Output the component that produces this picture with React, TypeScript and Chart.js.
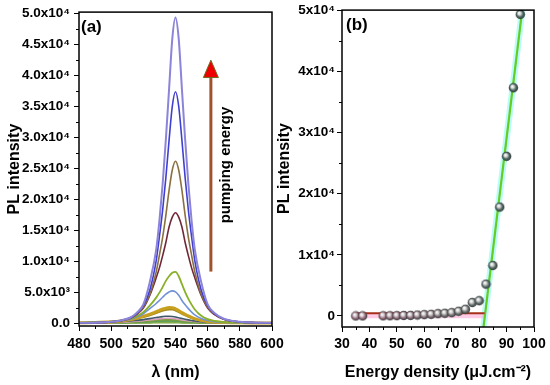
import React, { useEffect, useRef } from "react";
import { Chart, registerables } from "chart.js";
Chart.register(...registerables);

const FONT = "'Liberation Sans', Arial, Helvetica, sans-serif";

// ---------- Panel (a) data ----------
const WAVELENGTH = [480, 490, 500, 506, 512, 516, 520, 524, 528, 530, 532, 534, 536, 538, 540, 542, 544, 546, 548, 550, 552, 556, 560, 564, 570, 580, 590, 600];
const PL_49300 = [25, 64, 200, 420, 890, 1680, 3010, 6600, 11830, 16520, 22430, 29580, 37710, 45850, 49300, 45850, 37710, 29580, 22430, 16520, 11830, 6600, 3010, 1680, 690, 200, 64, 25];
const PL_37300 = [22, 58, 190, 400, 850, 1570, 2800, 5300, 10070, 13950, 18200, 23420, 29470, 34950, 37300, 34950, 29470, 23420, 18200, 13950, 10070, 5300, 2800, 1570, 650, 190, 58, 22];
const PL_26100 = [20, 52, 180, 380, 820, 1460, 2560, 4590, 8250, 10960, 13830, 17380, 21400, 24690, 26100, 24690, 21400, 17380, 13830, 10960, 8250, 4590, 2560, 1460, 620, 180, 52, 20];
const PL_17800 = [18, 48, 170, 360, 780, 1400, 2400, 4450, 7300, 8900, 10860, 12990, 15490, 17090, 17800, 17090, 15490, 12990, 10860, 8900, 7300, 4450, 2400, 1400, 600, 170, 48, 18];
const PL_8250 = [40, 90, 210, 380, 700, 1100, 1750, 2800, 4100, 4900, 5800, 6800, 7550, 8100, 8250, 7550, 6270, 4990, 3900, 2970, 2180, 1160, 620, 350, 160, 50, 17, 7];
const PL_5200 = [30, 70, 170, 320, 600, 950, 1500, 2330, 3150, 3640, 4160, 4660, 5010, 5190, 5030, 4490, 3640, 2940, 2320, 1780, 1320, 730, 400, 230, 110, 35, 10, 4];
const PL_2500 = [48, 100, 210, 345, 575, 800, 1100, 1425, 1825, 2050, 2260, 2400, 2490, 2475, 2300, 2000, 1675, 1390, 1140, 910, 710, 425, 250, 160, 83, 30, 12, 5];
const PL_2200 = [42, 88, 185, 305, 505, 705, 970, 1255, 1605, 1805, 1990, 2110, 2190, 2180, 2025, 1760, 1475, 1225, 1005, 800, 625, 375, 220, 140, 73, 26, 11, 4];
const PL_1100 = [29, 57, 120, 200, 315, 430, 550, 705, 880, 970, 1035, 1085, 1100, 1060, 980, 845, 715, 605, 505, 415, 330, 210, 130, 85, 46, 17, 7, 3];
const PL_770 = [20, 40, 84, 140, 220, 300, 385, 495, 615, 680, 725, 760, 770, 740, 685, 590, 500, 425, 355, 290, 230, 147, 91, 60, 32, 12, 5, 2];
const PL_540 = [14, 28, 59, 98, 154, 211, 270, 345, 431, 475, 507, 532, 540, 520, 480, 414, 350, 296, 247, 203, 162, 103, 64, 42, 23, 8, 3, 1];
const PL_380 = [10, 20, 41, 69, 109, 148, 190, 243, 304, 335, 357, 374, 380, 366, 338, 292, 247, 209, 174, 143, 114, 72, 45, 29, 16, 6, 2, 1];
const PL_220 = [6, 11, 24, 40, 63, 86, 110, 141, 176, 194, 207, 217, 220, 212, 196, 169, 143, 121, 101, 83, 66, 42, 26, 17, 9, 3, 1, 1];
const PL_100 = [3, 5, 11, 18, 28, 39, 50, 63, 79, 87, 93, 98, 100, 95, 88, 76, 64, 54, 45, 37, 30, 19, 12, 8, 4, 2, 1, 0];

const SPECTRA = [PL_49300, PL_37300, PL_26100, PL_17800, PL_8250, PL_5200, PL_2500, PL_2200, PL_1100, PL_770, PL_540, PL_380, PL_220, PL_100];
const SPECTRA_COLORS = ["#8c84d8", "#4040d0", "#8a7040", "#702838", "#88b028", "#7090d8", "#c8a020", "#a88c1c", "#405868", "#e0a0c0", "#7aa040", "#5a9a60", "#8ab050", "#70a030"];
const SPECTRA_WIDTHS = [2, 1.6, 1.6, 1.6, 1.8, 1.6, 3, 2, 1.6, 1.5, 2, 2, 2, 2];

const A_X_TICKS = [480, 500, 520, 540, 560, 580, 600];
const A_X_MINOR = [490, 510, 530, 550, 570, 590];
const A_Y_TICKS = [0, 5000, 10000, 15000, 20000, 25000, 30000, 35000, 40000, 45000, 50000];
const A_Y_LABELS = ["0.0", "5.0x10³", "1.0x10⁴", "1.5x10⁴", "2.0x10⁴", "2.5x10⁴", "3.0x10⁴", "3.5x10⁴", "4.0x10⁴", "4.5x10⁴", "5.0x10⁴"];
const A_Y_MINOR = [2500, 7500, 12500, 17500, 22500, 27500, 32500, 37500, 42500, 47500];

const ARROW_X = 562;
const ARROW_FROM = 8300;
const ARROW_BASE = 39600;
const ARROW_TIP = 42400;
const ARROW_TEXT = "pumping energy";
const ARROW_TEXT_X = 571.5;
const ARROW_TEXT_Y = 25500;

// ---------- Panel (b) data ----------
const ENERGY = [35, 37.5, 45, 47.5, 50, 52.5, 55, 57.5, 60, 62.5, 65, 67.5, 70, 72.5, 75, 77.5, 80, 82.5, 85, 87.5, 90, 92.5, 95];
const INTENSITY = [0, 10, 20, 30, 50, 80, 100, 160, 220, 270, 380, 440, 540, 770, 1100, 2200, 2500, 5200, 8250, 17800, 26100, 37300, 49300];
const POINT_COLORS = ["#9a6a7c", "#9a6a7c", "#9a6a7c", "#946c7c", "#946c7c", "#8e6e7c", "#8e6e7c", "#88707a", "#88707a", "#827278", "#827278", "#7a7476", "#7a7476", "#727474", "#727474", "#6a7472", "#647270", "#5e706c", "#586e68", "#526c66", "#4c6a62", "#4c6a62", "#4c6a62"];

const FIT_LOW_X = [35, 82];
const FIT_LOW_Y = [450, 450];
const BAND_LOW_BOTTOM = [-350, -350];
const FIT_HIGH_X = [81.6, 95.7];
const FIT_HIGH_Y = [-1800, 50000];
const BAND_HIGH_X = [80, 97];
const BAND_HIGH_UPPER = [-3278, 59180];
const BAND_HIGH_LOWER = [-12078, 50380];

const B_X_TICKS = [30, 40, 50, 60, 70, 80, 90, 100];
const B_X_MINOR = [35, 45, 55, 65, 75, 85, 95];
const B_Y_TICKS = [0, 10000, 20000, 30000, 40000, 50000];
const B_Y_LABELS = ["0", "1x10⁴", "2x10⁴", "3x10⁴", "4x10⁴", "5x10⁴"];
const B_Y_MINOR = [5000, 15000, 25000, 35000, 45000];

function makeDecor(opts: any) {
  return {
    id: "decor",
    afterDatasetsDraw(chart: any) {
      const { ctx, scales } = chart;
      ctx.save();
      if (opts.arrow) {
        const x = scales.x.getPixelForValue(opts.arrow.x);
        const y0 = scales.y.getPixelForValue(opts.arrow.from);
        const yb = scales.y.getPixelForValue(opts.arrow.base);
        const yt = scales.y.getPixelForValue(opts.arrow.tip);
        ctx.strokeStyle = "#a0522d";
        ctx.lineWidth = 3;
        ctx.beginPath();
        ctx.moveTo(x, y0);
        ctx.lineTo(x, yb);
        ctx.stroke();
        ctx.beginPath();
        ctx.moveTo(x, yt);
        ctx.lineTo(x - 7.5, yb);
        ctx.lineTo(x + 7.5, yb);
        ctx.closePath();
        ctx.fillStyle = "#ee0000";
        ctx.fill();
        ctx.strokeStyle = "#6a6a20";
        ctx.lineWidth = 1;
        ctx.stroke();
      }
      if (opts.text) {
        const tx = scales.x.getPixelForValue(opts.text.x);
        const ty = scales.y.getPixelForValue(opts.text.y);
        ctx.translate(tx, ty);
        ctx.rotate(-Math.PI / 2);
        ctx.fillStyle = "#000";
        ctx.font = `bold 15px ${FONT}`;
        ctx.textAlign = "center";
        ctx.textBaseline = "middle";
        ctx.fillText(opts.text.label, 0, 0);
        ctx.setTransform(1, 0, 0, 1, 0, 0);
      }
      ctx.restore();
    },
    afterDraw(chart: any) {
      const { ctx, chartArea: a, scales } = chart;
      ctx.save();
      ctx.strokeStyle = "#000";
      ctx.lineWidth = 1;
      ctx.beginPath();
      opts.minorX.forEach((v: number) => {
        const px = Math.round(scales.x.getPixelForValue(v)) + 0.5;
        ctx.moveTo(px, a.bottom);
        ctx.lineTo(px, a.bottom + 3);
      });
      opts.minorY.forEach((v: number) => {
        const py = Math.round(scales.y.getPixelForValue(v)) + 0.5;
        ctx.moveTo(a.left - 3, py);
        ctx.lineTo(a.left, py);
      });
      ctx.stroke();
      ctx.lineWidth = 1.5;
      ctx.strokeRect(a.left, a.top, a.right - a.left, a.bottom - a.top);
      ctx.fillStyle = "#000";
      ctx.font = `bold 17px ${FONT}`;
      ctx.textAlign = "left";
      ctx.textBaseline = "alphabetic";
      ctx.fillText(opts.label, a.left + opts.labelDx, a.top + 20);
      ctx.restore();
    },
  };
}

function axisBase(ticks: number[], labels: string[] | null, size: number, pad: number) {
  return {
    type: "linear",
    afterBuildTicks: (s: any) => {
      s.ticks = ticks.map((v) => ({ value: v }));
    },
    ticks: {
      font: { family: FONT, size, weight: "bold" },
      color: "#000",
      padding: pad,
      autoSkip: false,
      maxRotation: 0,
      callback: (v: any, i: number) => (labels ? labels[i] : String(v)),
    },
    grid: { drawOnChartArea: false, drawTicks: true, tickLength: 5, color: "#000", lineWidth: 1 },
    border: { display: false },
  };
}

function titleOpt(text: string, pad: any) {
  return { display: true, text, color: "#000", font: { family: FONT, size: 16, weight: "bold" }, padding: pad };
}

function makeBall(color: string, r: number) {
  const c = document.createElement("canvas");
  const size = Math.ceil(r * 2) + 1;
  c.width = size;
  c.height = size;
  const g = c.getContext("2d")!;
  const cx = size / 2;
  const grad = g.createRadialGradient(cx - r * 0.3, cx - r * 0.35, r * 0.05, cx, cx, r);
  grad.addColorStop(0, "#ffffff");
  grad.addColorStop(0.3, "#d8d8d8");
  grad.addColorStop(0.65, color);
  grad.addColorStop(1, "#2e3434");
  g.fillStyle = grad;
  g.beginPath();
  g.arc(cx, cx, r, 0, Math.PI * 2);
  g.fill();
  return c;
}

export default function App() {
  const refA = useRef<HTMLCanvasElement>(null);
  const refB = useRef<HTMLCanvasElement>(null);

  useEffect(() => {
    const xA: any = axisBase(A_X_TICKS, null, 14, 5);
    xA.min = 480;
    xA.max = 600;
    xA.afterFit = (s: any) => { s.height = 59; };
    xA.title = titleOpt("λ (nm)", { top: 0, bottom: 3 });
    const yA: any = axisBase(A_Y_TICKS, A_Y_LABELS, 13.5, 4);
    yA.min = -480;
    yA.max = 50160;
    yA.afterFit = (s: any) => { s.width = 79; };
    yA.title = titleOpt("PL intensity", { top: 5, bottom: 0 });

    const chartA = new Chart(refA.current!, {
      type: "line",
      data: {
        datasets: SPECTRA.map((vals, k) => ({
          data: WAVELENGTH.map((x, j) => ({ x, y: vals[j] })),
          borderColor: SPECTRA_COLORS[k],
          borderWidth: SPECTRA_WIDTHS[k],
          pointRadius: 0,
          fill: false,
          cubicInterpolationMode: "monotone",
        })),
      },
      options: {
        animation: false,
        responsive: false,
        events: [],
        layout: { padding: { left: 0, top: 10, right: 18, bottom: 0 } },
        plugins: { legend: { display: false }, tooltip: { enabled: false } },
        scales: { x: xA, y: yA },
      } as any,
      plugins: [
        makeDecor({
          minorX: A_X_MINOR,
          minorY: A_Y_MINOR,
          label: "(a)",
          labelDx: 2,
          arrow: { x: ARROW_X, from: ARROW_FROM, base: ARROW_BASE, tip: ARROW_TIP },
          text: { x: ARROW_TEXT_X, y: ARROW_TEXT_Y, label: ARROW_TEXT },
        }),
      ],
    } as any);

    const xB: any = axisBase(B_X_TICKS, null, 14, 4);
    xB.min = 30;
    xB.max = 100;
    xB.afterFit = (s: any) => { s.height = 58; };
    xB.title = titleOpt("Energy density (μJ.cm⁻²)", { top: 0, bottom: 3 });
    const yB: any = axisBase(B_Y_TICKS, B_Y_LABELS, 13.5, 2);
    yB.min = -1800;
    yB.max = 50000;
    yB.afterFit = (s: any) => { s.width = 72; };
    yB.title = titleOpt("PL intensity", { top: 5, bottom: 0 });

    const balls = POINT_COLORS.map((c) => makeBall(c, 4.7));
    const pts = (xs: number[], ys: number[]) => xs.map((x, i) => ({ x, y: ys[i] }));

    const chartB = new Chart(refB.current!, {
      type: "line",
      data: {
        datasets: [
          {
            data: pts(ENERGY, INTENSITY),
            showLine: false,
            pointStyle: balls,
            pointRadius: 4.7,
            order: 0,
          },
          { data: pts(FIT_LOW_X, FIT_LOW_Y), borderColor: "#a8301a", borderWidth: 2.2, pointRadius: 0, order: 1 },
          { data: pts(FIT_HIGH_X, FIT_HIGH_Y), borderColor: "#66cc22", borderWidth: 2.2, pointRadius: 0, order: 1 },
          { data: pts(FIT_LOW_X, FIT_LOW_Y), borderWidth: 0, borderColor: "rgba(0,0,0,0)", pointRadius: 0, fill: "+1", backgroundColor: "rgba(255,170,215,0.6)", order: 2 },
          { data: pts(FIT_LOW_X, BAND_LOW_BOTTOM), borderWidth: 0, borderColor: "rgba(0,0,0,0)", pointRadius: 0, order: 2 },
          { data: pts(BAND_HIGH_X, BAND_HIGH_UPPER), borderWidth: 0, borderColor: "rgba(0,0,0,0)", pointRadius: 0, fill: "+1", backgroundColor: "rgba(140,250,245,0.6)", order: 2 },
          { data: pts(BAND_HIGH_X, BAND_HIGH_LOWER), borderWidth: 0, borderColor: "rgba(0,0,0,0)", pointRadius: 0, order: 2 },
        ],
      },
      options: {
        animation: false,
        responsive: false,
        events: [],
        layout: { padding: { left: 0, top: 10, right: 16, bottom: 0 } },
        plugins: { legend: { display: false }, tooltip: { enabled: false } },
        scales: { x: xB, y: yB },
      } as any,
      plugins: [makeDecor({ minorX: B_X_MINOR, minorY: B_Y_MINOR, label: "(b)", labelDx: 4 })],
    } as any);

    return () => {
      chartA.destroy();
      chartB.destroy();
    };
  }, []);

  return (
    <div style={{ position: "absolute", left: 0, top: 0, width: 550, height: 385, background: "#fff" }}>
      <canvas ref={refA} width={290} height={385} style={{ position: "absolute", left: 0, top: 0 }} />
      <canvas ref={refB} width={280} height={385} style={{ position: "absolute", left: 270, top: 0 }} />
    </div>
  );
}
